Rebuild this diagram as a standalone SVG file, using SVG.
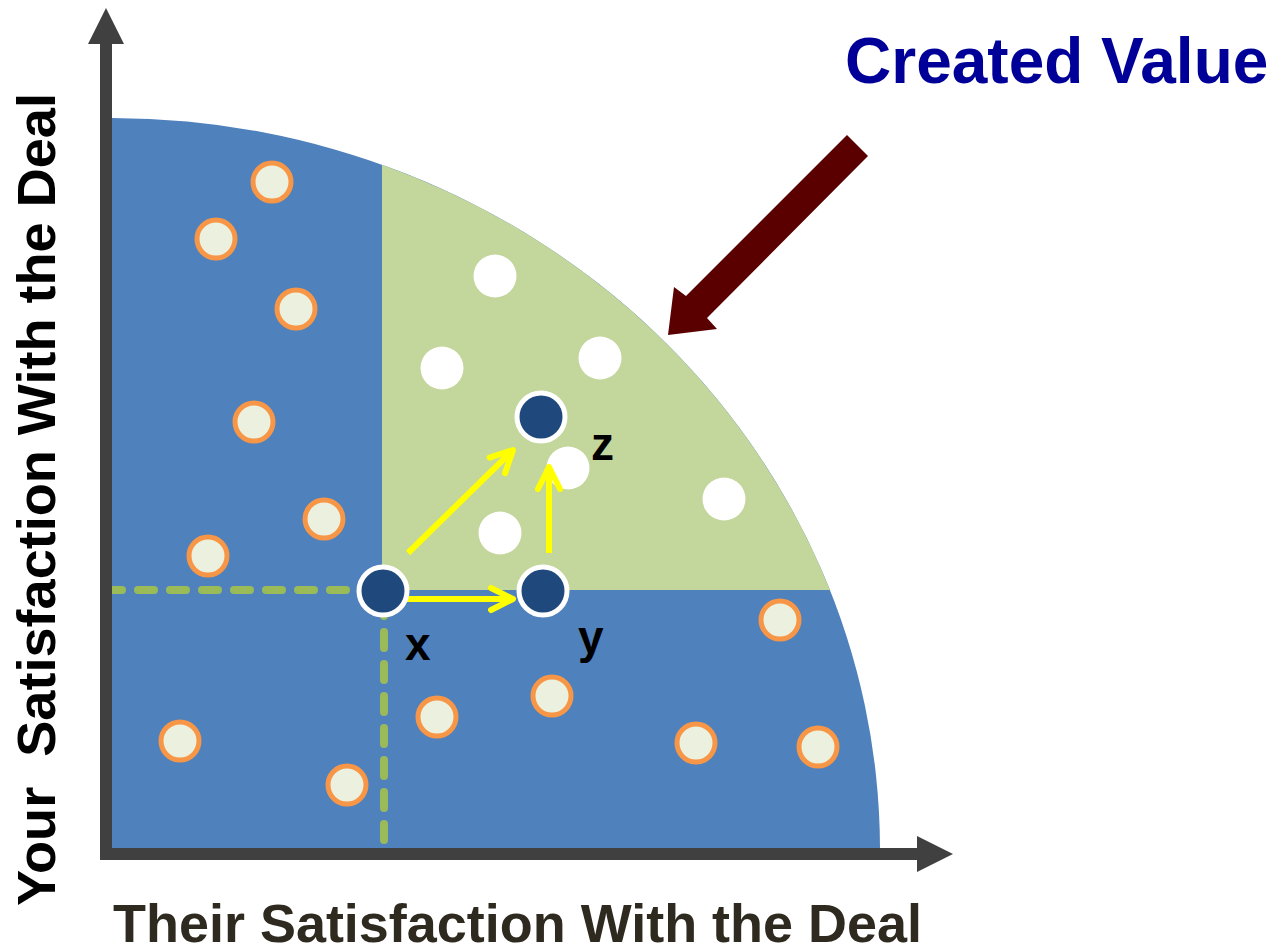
<svg xmlns="http://www.w3.org/2000/svg" width="1286" height="951" viewBox="0 0 1286 951">
<style>
.orange{fill:#ebf1de;stroke:#f79646;stroke-width:5}
.white{fill:#ffffff}
.dark{fill:#1f497d;stroke:#ffffff;stroke-width:5}
.dash{stroke:#9bbb59;stroke-width:8;stroke-dasharray:16 16;stroke-linecap:round;fill:none}
.yarrow{stroke:#ffff00;stroke-width:6;fill:none;marker-end:url(#chev)}
.lbl{font-family:"Liberation Sans",Arial,sans-serif;font-weight:bold;font-size:46px;fill:#000000}
.axis{fill:#404040}
</style>
<defs>
<marker id="chev" markerUnits="userSpaceOnUse" markerWidth="40" markerHeight="40" refX="0" refY="0" viewBox="-30 -20 40 40" orient="auto" overflow="visible">
<path d="M-22,-11 L0,0 L-22,11" fill="none" stroke="#ffff00" stroke-width="6" stroke-linecap="round" stroke-linejoin="round"/>
</marker>
</defs>
<rect width="1286" height="951" fill="#ffffff"/>
<g id="regions">
<path id="blue-region" d="M112,118 A768,732 0 0 1 880,848 L112,848 Z" fill="#4f81bd"/>
<path id="green-region" d="M382,164.7 A768,732 0 0 1 829.9,590 L382,590 Z" fill="#c3d69b"/>
</g>
<g id="guides">
<line class="dash" x1="106" y1="590" x2="346" y2="590"/>
<line class="dash" x1="384" y1="600" x2="384" y2="846"/>
</g>
<g id="axes">
<rect class="axis" x="100" y="42" width="12" height="818"/>
<polygon class="axis" points="106,8 88,44 124,44"/>
<rect class="axis" x="100" y="848" width="820" height="12"/>
<polygon class="axis" points="953,854 917,836 917,872"/>
</g>
<g id="orange-points">
<circle class="orange" cx="272" cy="182" r="19"/>
<circle class="orange" cx="216" cy="239" r="19"/>
<circle class="orange" cx="296" cy="309" r="19"/>
<circle class="orange" cx="254" cy="422" r="19"/>
<circle class="orange" cx="324" cy="519" r="19"/>
<circle class="orange" cx="208" cy="556" r="19"/>
<circle class="orange" cx="180" cy="741" r="19"/>
<circle class="orange" cx="347" cy="785" r="19"/>
<circle class="orange" cx="437" cy="717" r="19"/>
<circle class="orange" cx="552" cy="696" r="19"/>
<circle class="orange" cx="780" cy="620" r="19"/>
<circle class="orange" cx="696" cy="743" r="19"/>
<circle class="orange" cx="818" cy="747" r="19"/>
</g>
<g id="white-points">
<circle class="white" cx="495" cy="276" r="21.5"/>
<circle class="white" cx="442" cy="368" r="21.5"/>
<circle class="white" cx="600" cy="358" r="21.5"/>
<circle class="white" cx="568" cy="468" r="21.5"/>
<circle class="white" cx="724" cy="499" r="21.5"/>
<circle class="white" cx="500" cy="533" r="21.5"/>
</g>
<g id="connectors">
<line class="yarrow" x1="407" y1="599" x2="513" y2="599"/>
<line class="yarrow" x1="408" y1="553" x2="513" y2="450"/>
<line class="yarrow" x1="549" y1="553" x2="549" y2="467"/>
<polygon id="created-value-arrow" points="847,135 868,156 707,318 717,329 668,335 674,287 686,296" fill="#5b0000"/>
</g>
<g id="node-x">
<circle class="dark" cx="383" cy="591" r="24"/>
<text class="lbl" x="405" y="660">x</text>
</g>
<g id="node-y">
<circle class="dark" cx="543" cy="591" r="24"/>
<text class="lbl" x="578" y="653">y</text>
</g>
<g id="node-z">
<circle class="dark" cx="541" cy="417" r="24"/>
<text class="lbl" x="591" y="460">z</text>
</g>
<g id="titles">
<text x="845" y="83" font-family="Liberation Sans, Arial, sans-serif" font-weight="bold" font-size="64" fill="#000099">Created Value</text>
<text x="113" y="942" font-family="Liberation Sans, Arial, sans-serif" font-weight="bold" font-size="54" fill="#2f2a20" textLength="809" lengthAdjust="spacingAndGlyphs">Their Satisfaction With the Deal</text>
<text transform="translate(55,906) rotate(-90)" x="0" y="0" font-family="Liberation Sans, Arial, sans-serif" font-weight="bold" font-size="53" fill="#000000" textLength="813" lengthAdjust="spacingAndGlyphs" xml:space="preserve">Your  Satisfaction With the Deal</text>
</g>
</svg>
